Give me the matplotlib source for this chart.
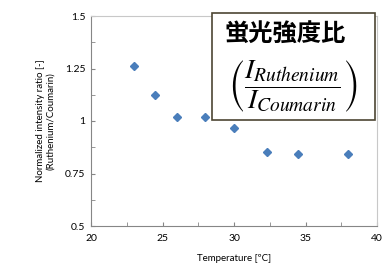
import matplotlib
matplotlib.use('Agg')
import matplotlib.pyplot as plt
from matplotlib.patches import Rectangle
from matplotlib.ticker import MultipleLocator

# Data
temperature = [23.0, 24.5, 26.0, 28.0, 30.0, 32.3, 34.5, 38.0]
ratio = [1.262, 1.124, 1.019, 1.019, 0.967, 0.852, 0.843, 0.843]
x_ticks = [20, 25, 30, 35, 40]
y_ticks = [0.5, 0.75, 1.0, 1.25, 1.5]
y_tick_labels = ['0.5', '0.75', '1', '1.25', '1.5']

plt.rcParams['font.family'] = ['Lato', 'DejaVu Sans']
plt.rcParams['mathtext.fontset'] = 'stix'

fig = plt.figure(figsize=(3.82, 2.71), dpi=100)
ax = fig.add_axes([91 / 382, 45 / 271, 286 / 382, 210 / 271])

ax.plot(temperature, ratio, linestyle='none', marker='D', markersize=4.5,
        color='#4a7ebb', markeredgecolor='#4a7ebb')

ax.set_xlim(20, 40)
ax.set_ylim(0.5, 1.5)
ax.set_xticks(x_ticks)
ax.set_yticks(y_ticks)
ax.set_yticklabels(y_tick_labels)
ax.xaxis.set_minor_locator(MultipleLocator(2.5))
ax.yaxis.set_minor_locator(MultipleLocator(0.125))
ax.tick_params(which='both', direction='in', colors='#868686', labelcolor='black',
               labelsize=7.5)
ax.tick_params(which='major', length=3, pad=6)
ax.tick_params(which='minor', length=3)
ax.tick_params(axis='y', pad=4)

for side in ['left', 'bottom']:
    ax.spines[side].set_color('#868686')
for side in ['top', 'right']:
    ax.spines[side].set_color('#c8c8c8')

ax.set_xlabel('Temperature [\u00baC]', fontsize=7, labelpad=8)
ax.set_ylabel('Normalized intensity ratio [-]\n(Ruthenium/Coumarin)', fontsize=7,
              labelpad=7, linespacing=1.15)

# Annotation box
box = Rectangle((212 / 382, 1 - 120 / 271), 163 / 382, 107 / 271,
                transform=fig.transFigure, facecolor='white', edgecolor='#4d4633',
                linewidth=1.2, zorder=5)
fig.patches.append(box)
fig.text(285 / 382, 1 - 34 / 271, '蛍光強度比', fontsize=17.5, ha='center', va='center',
         family=['Noto Sans CJK JP', 'DejaVu Sans'], fontweight='bold', zorder=6)
fig.text(293 / 382, 1 - 86 / 271,
         r'$\left(\dfrac{I_{Ruthenium}}{I_{Coumarin}}\right)$',
         fontsize=20, ha='center', va='center', zorder=6)

fig.savefig('out.png', dpi=100)
